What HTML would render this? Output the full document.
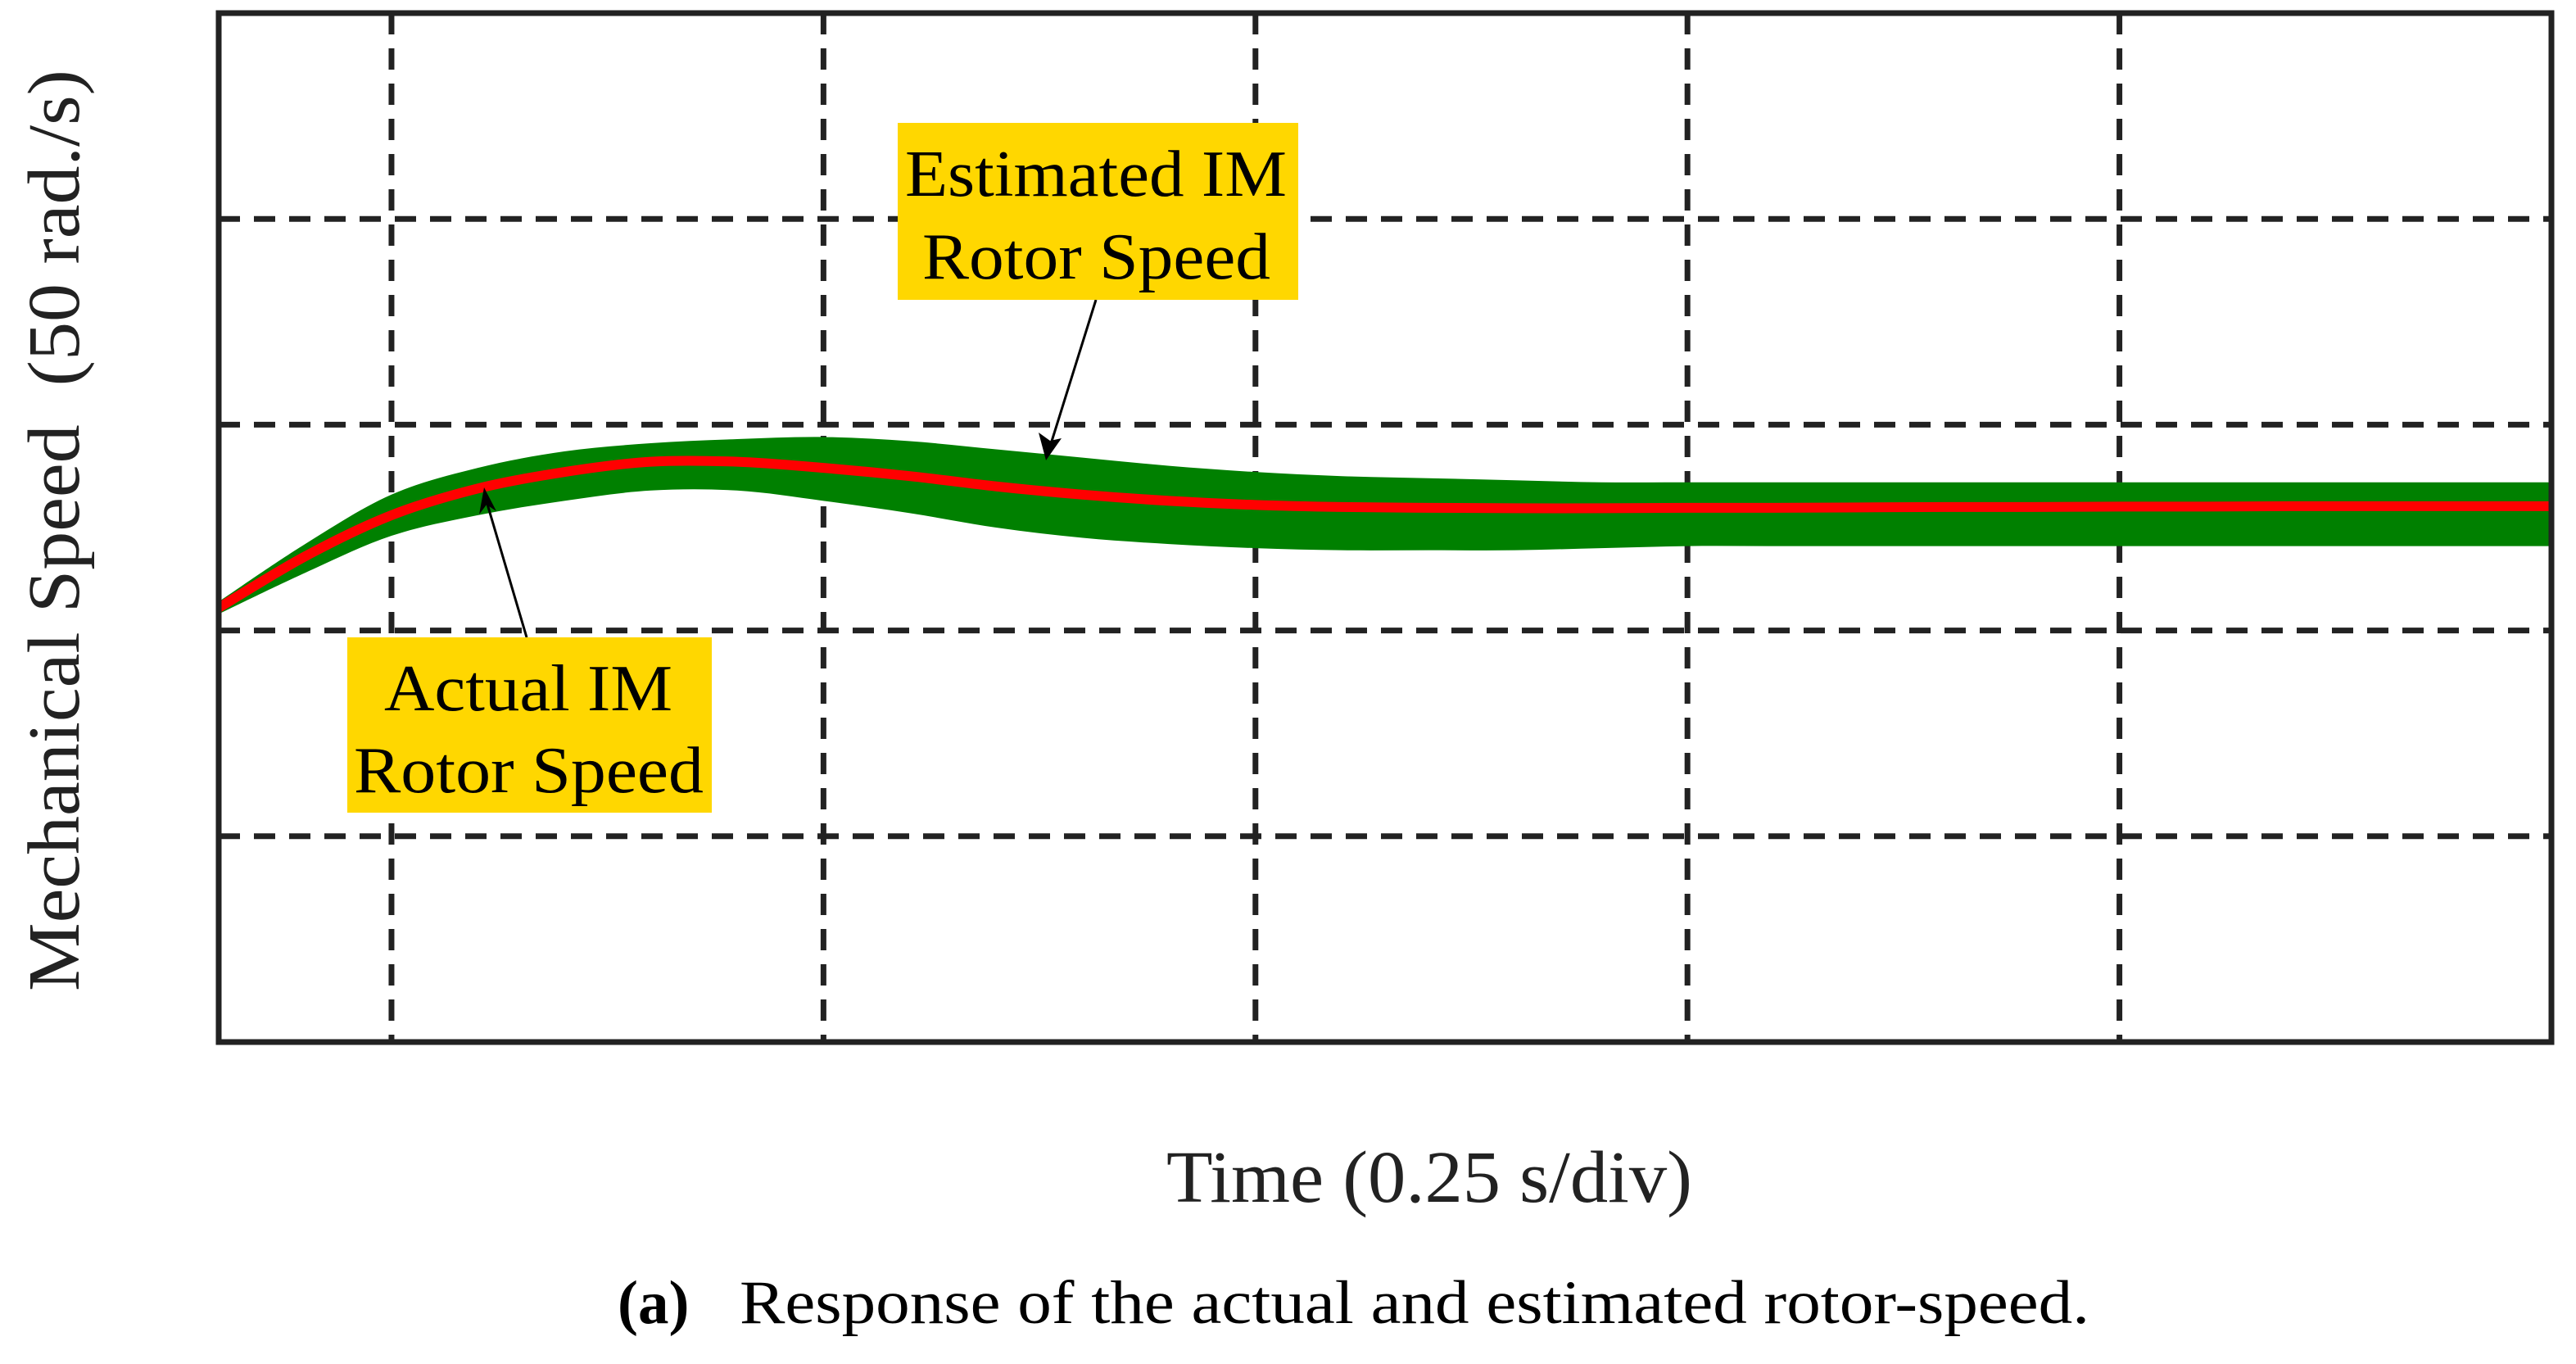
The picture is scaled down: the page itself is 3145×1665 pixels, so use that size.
<!DOCTYPE html>
<html><head><meta charset="utf-8"><style>
html,body{margin:0;padding:0;background:#fff;}
svg{display:block;font-family:"Liberation Serif",serif;}
</style></head><body>
<svg id="chart" width="3145" height="1665" viewBox="0 0 3145 1665" xmlns="http://www.w3.org/2000/svg">
<rect x="0" y="0" width="3145" height="1665" fill="#fff"/>
<g id="grid"></g>
<g id="series"></g>
<rect x="267" y="16" width="2848" height="1256" fill="none" stroke="#222" stroke-width="7"/>
<g>
<line x1="1338" y1="366" x2="1282" y2="545" stroke="#000" stroke-width="3"/>
<polygon points="1277,562 1268,528 1282,538 1296,535" fill="#000"/>
<rect x="1096" y="150" width="489" height="216" fill="#FFD700"/>
<text x="1105" y="239" font-size="80" textLength="466" lengthAdjust="spacingAndGlyphs">Estimated IM</text>
<text x="1126" y="340" font-size="80" textLength="425" lengthAdjust="spacingAndGlyphs">Rotor Speed</text>
</g>
<g>
<line x1="643" y1="778" x2="594" y2="612" stroke="#000" stroke-width="3"/>
<polygon points="591,595 585,628 594,616 606,624" fill="#000"/>
<rect x="424" y="778" width="445" height="214" fill="#FFD700"/>
<text x="469" y="867" font-size="80" textLength="352" lengthAdjust="spacingAndGlyphs">Actual IM</text>
<text x="432" y="967" font-size="80" textLength="427" lengthAdjust="spacingAndGlyphs">Rotor Speed</text>
</g>
<text transform="translate(96,1210) rotate(-90)" x="0" y="0" font-size="90" fill="#222" textLength="1125" lengthAdjust="spacingAndGlyphs">Mechanical Speed&#160; (50 rad./s)</text>
<text x="1424" y="1467" font-size="90" fill="#222" textLength="642" lengthAdjust="spacingAndGlyphs">Time (0.25 s/div)</text>
<text x="754" y="1615" font-size="75" font-weight="bold">(a)</text>
<text x="903" y="1615" font-size="75" textLength="1648" lengthAdjust="spacingAndGlyphs">Response of the actual and estimated rotor-speed.</text>
</svg>
<script>
// time samples (s) and speeds (rad/s)
const timeS = [0,0.05,0.1,0.15,0.2,0.25,0.3,0.35,0.4,0.45,0.5,0.55,0.6,0.65,0.7,0.75,0.8,0.85,0.9,0.95,1.0,1.05,1.1,1.15,1.2,1.25,1.3,1.35];
const actualSpeed = [105.5,118,128,134.5,138.5,141,141,139.5,137.5,135,133,131.5,130.5,130,129.8,129.7,129.7,129.8,129.8,129.9,130,130,130.1,130.1,130.2,130.2,130.2,130.2];
const estUpper = [107,121,133,139.5,143.5,145.5,146.5,147,146,144,142,140,138.5,137.5,137,136.5,136,136,136,136,136,136,136,136,136,136,136,136];
const estLower = [104,114,123,128,131.5,134,134,131.5,128.5,125,122.5,121,120,119.5,119.5,119.5,120,120.5,120.5,120.5,120.5,120.5,120.5,120.5,120.5,120.5,120.5,120.5];
const xGridTimes = [0.1,0.35,0.6,0.85,1.1];
const yGridSpeeds = [50,100,150,200];

const X0=267,X1=3115,Y0=1272,Y1=16,TMAX=1.35,SMAX=250;
function xs(t){return X0+(t/TMAX)*(X1-X0);}
function ys(v){return Y0-(v/SMAX)*(Y0-Y1);}
const NS='http://www.w3.org/2000/svg';
const grid=document.getElementById('grid');
const series=document.getElementById('series');

// smooth Catmull-Rom path segments through given screen points (no leading M)
function smoothSeg(p){
  let d='';
  for(let i=0;i<p.length-1;i++){
    const p0=p[Math.max(0,i-1)],p1=p[i],p2=p[i+1],p3=p[Math.min(p.length-1,i+2)];
    const c1x=p1[0]+(p2[0]-p0[0])/6,c1y=p1[1]+(p2[1]-p0[1])/6;
    const c2x=p2[0]-(p3[0]-p1[0])/6,c2y=p2[1]-(p3[1]-p1[1])/6;
    d+=' C'+c1x+','+c1y+' '+c2x+','+c2y+' '+p2[0]+','+p2[1];
  }
  return d;
}

xGridTimes.forEach(function(t){
  const l=document.createElementNS(NS,'line');
  l.setAttribute('x1',xs(t));l.setAttribute('x2',xs(t));
  l.setAttribute('y1',Y1);l.setAttribute('y2',Y0);
  l.setAttribute('stroke','#222');l.setAttribute('stroke-width','7');
  l.setAttribute('stroke-dasharray','26 17');
  
  
  grid.appendChild(l);
});
yGridSpeeds.forEach(function(v){
  const l=document.createElementNS(NS,'line');
  l.setAttribute('x1',X0);l.setAttribute('x2',X1);
  l.setAttribute('y1',ys(v));l.setAttribute('y2',ys(v));
  l.setAttribute('stroke','#222');l.setAttribute('stroke-width','7');
  l.setAttribute('stroke-dasharray','26 17');
  
  
  grid.appendChild(l);
});

// estimated speed band
const up=timeS.map(function(t,i){return [xs(t),ys(estUpper[i])];});
const lo=timeS.map(function(t,i){return [xs(t),ys(estLower[i])];}).reverse();
const bandD='M'+up[0][0]+','+up[0][1]+smoothSeg(up)+' L'+lo[0][0]+','+lo[0][1]+smoothSeg(lo)+' Z';
const band=document.createElementNS(NS,'path');
band.setAttribute('d',bandD);
band.setAttribute('fill','#008000');


series.appendChild(band);

// actual speed line
const ap=timeS.map(function(t,i){return [xs(t),ys(actualSpeed[i])];});
const line=document.createElementNS(NS,'path');
line.setAttribute('d','M'+ap[0][0]+','+ap[0][1]+smoothSeg(ap));
line.setAttribute('fill','none');
line.setAttribute('stroke','#ff0000');
line.setAttribute('stroke-width','12');
line.setAttribute('stroke-linejoin','round');


series.appendChild(line);
</script>
</body></html>
